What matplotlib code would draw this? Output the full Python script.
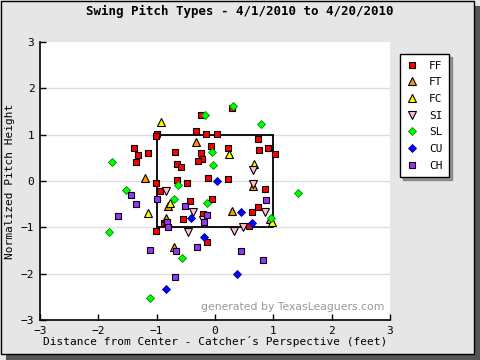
import matplotlib.pyplot as plt
from matplotlib.patches import Rectangle

# pitch locations (feet), catcher's perspective
ff_x = [-0.235, -0.321, -0.989, -1.006, -0.149, -1.383, -1.315, -1.143, -1.349, -0.681,
        -0.063, -0.235, -0.218, -0.286, -0.646, -0.578, -0.115, -0.646, -0.475, -1.006,
        -0.938, -0.423, -0.046, 0.297, 0.039, 0.742, 0.228, 0.759, 0.914, 1.034,
        0.228, 0.862, -0.543, -0.201, -0.869, -1.006, -0.132, 0.732, 0.639, 0.578]
ff_y = [1.418, 1.079, 1.008, 0.965, 1.008, 0.706, 0.555, 0.598, 0.404, 0.619,
        0.749, 0.598, 0.468, 0.425, 0.360, 0.296, 0.058, 0.015, -0.050, -0.050,
        -0.222, -0.438, -0.395, 1.569, 1.008, 0.900, 0.706, 0.663, 0.706, 0.576,
        0.037, -0.179, -0.827, -0.719, -0.913, -1.086, -1.323, -0.568, -0.676, -0.978]
ft_x = [-0.321, -1.195, -0.80, -0.835, -0.698, 0.286, 0.943, 0.657]
ft_y = [0.835, 0.071, -0.54, -0.805, -1.425, -0.648, -0.827, -0.101]
fc_x = [-0.921, 0.245, 0.669, -1.143, -0.771, 0.983]
fc_y = [1.28, 0.576, 0.36, -0.698, -0.468, -0.885]
si_x = [-0.835, 0.657, 0.657, -0.372, -0.2, -0.458, 0.862, 0.331, 0.485]
si_y = [-0.222, 0.237, -0.071, -0.676, -0.842, -1.094, -0.662, -1.072, -1.0]
sl_x = [-0.166, 0.314, 0.794, -0.046, -0.034, -1.76, -0.629, -1.52, -0.698, -0.132,
        1.428, -1.812, -0.561, -1.109, 0.955]
sl_y = [1.418, 1.612, 1.224, 0.619, 0.339, 0.404, -0.093, -0.201, -0.395, -0.481,
        -0.266, -1.107, -1.668, -2.532, -0.805]
cu_x = [0.039, -0.406, -0.183, -0.835, 0.451, 0.639, 0.382]
cu_y = [-0.007, -0.805, -1.215, -2.338, -0.676, -0.913, -2.014]
ch_x = [-1.435, -1.349, -0.989, 0.879, -1.658, -0.509, -0.132, -0.183, -0.818, -0.801,
        -1.109, -0.663, -0.303, -0.681, -0.183, 0.451, 0.828]
ch_y = [-0.309, -0.503, -0.395, -0.417, -0.762, -0.546, -0.741, -0.892, -0.892, -0.999,
        -1.496, -1.517, -1.431, -2.079, -2.661, -1.517, -1.712]

bg = '#e6e6e6'
mono = 'DejaVu Sans Mono'

fig = plt.figure(figsize=(4.8, 3.6), dpi=100, facecolor=bg)
# frame and drop shadow
fig.patches.append(Rectangle((6 / 480, 0), 474 / 480, 354 / 360, transform=fig.transFigure,
                             facecolor='#555555', edgecolor='none', zorder=-3))
fig.patches.append(Rectangle((0.5 / 480, 6 / 360), 473 / 480, 353.5 / 360, transform=fig.transFigure,
                             facecolor=bg, edgecolor='black', linewidth=1, zorder=-2))

ax = fig.add_axes([40 / 480, 40 / 360, 350 / 480, 278 / 360])
ax.set_facecolor('white')
ax.set_xlim(-3, 3)
ax.set_ylim(-3, 3)
for s in ['top', 'right']:
    ax.spines[s].set_visible(False)
for s in ['left', 'bottom']:
    ax.spines[s].set_linewidth(1.2)
ax.set_xticks(range(-3, 4))
ax.set_yticks(range(-3, 4))
ax.tick_params(direction='in', length=4, width=1, labelsize=8, pad=4)
for lab in ax.get_xticklabels() + ax.get_yticklabels():
    lab.set_family(mono)
for yy in [-2, -1, 0, 1, 2]:
    ax.axhline(yy, color='#dddddd', linewidth=1, zorder=0)

# strike zone
ax.add_patch(Rectangle((-1, -1), 2, 2, fill=False, edgecolor='black', linewidth=1.3, zorder=1))

ms_sq = 4.8
ms_tri = 5.8
ax.plot(ff_x, ff_y, 's', color='#ff0000', mec='black', mew=0.8, ms=ms_sq, label='FF', zorder=3)
ax.plot(ft_x, ft_y, '^', color='#ff9900', mec='black', mew=0.8, ms=ms_tri, label='FT', zorder=3)
ax.plot(fc_x, fc_y, '^', color='#ffff00', mec='black', mew=0.8, ms=ms_tri, label='FC', zorder=3)
ax.plot(si_x, si_y, 'v', color='#ffc0cb', mec='black', mew=0.8, ms=ms_tri, label='SI', zorder=3)
ax.plot(sl_x, sl_y, 'D', color='#00ff00', mec='#008800', mew=0.6, ms=3.6, label='SL', zorder=3)
ax.plot(cu_x, cu_y, 'D', color='#0000ff', mec='#000088', mew=0.6, ms=3.6, label='CU', zorder=3)
ax.plot(ch_x, ch_y, 's', color='#9933ff', mec='black', mew=0.8, ms=ms_sq, label='CH', zorder=3)

ax.set_xlabel("Distance from Center - Catcher\u00b4s Perspective (feet)", family=mono, fontsize=8, labelpad=0)
ax.set_ylabel('Normalized Pitch Height', family=mono, fontsize=8, labelpad=4)
fig.text(0.5, 1 - 11 / 360, 'Swing Pitch Types - 4/1/2010 to 4/20/2010', family=mono,
         fontsize=9, fontweight='bold', ha='center', va='center')

ax.text(0.985, 0.03, 'generated by TexasLeaguers.com', transform=ax.transAxes, ha='right',
        va='bottom', fontsize=7.8, color='#999999',
        bbox=dict(facecolor='white', edgecolor='none', pad=1.5), zorder=5)

leg = ax.legend(loc='upper left', bbox_to_anchor=(400 / 480, 1 - 54 / 360),
                bbox_transform=fig.transFigure, frameon=True, fancybox=False, shadow=True,
                edgecolor='black', borderpad=0.6, labelspacing=0.6, handlelength=1.0,
                handletextpad=1.0, borderaxespad=0, prop={'family': mono, 'size': 8})
leg.get_frame().set_linewidth(1)
leg.get_frame().set_alpha(1)

fig.savefig('out.png', dpi=100, facecolor=bg)
